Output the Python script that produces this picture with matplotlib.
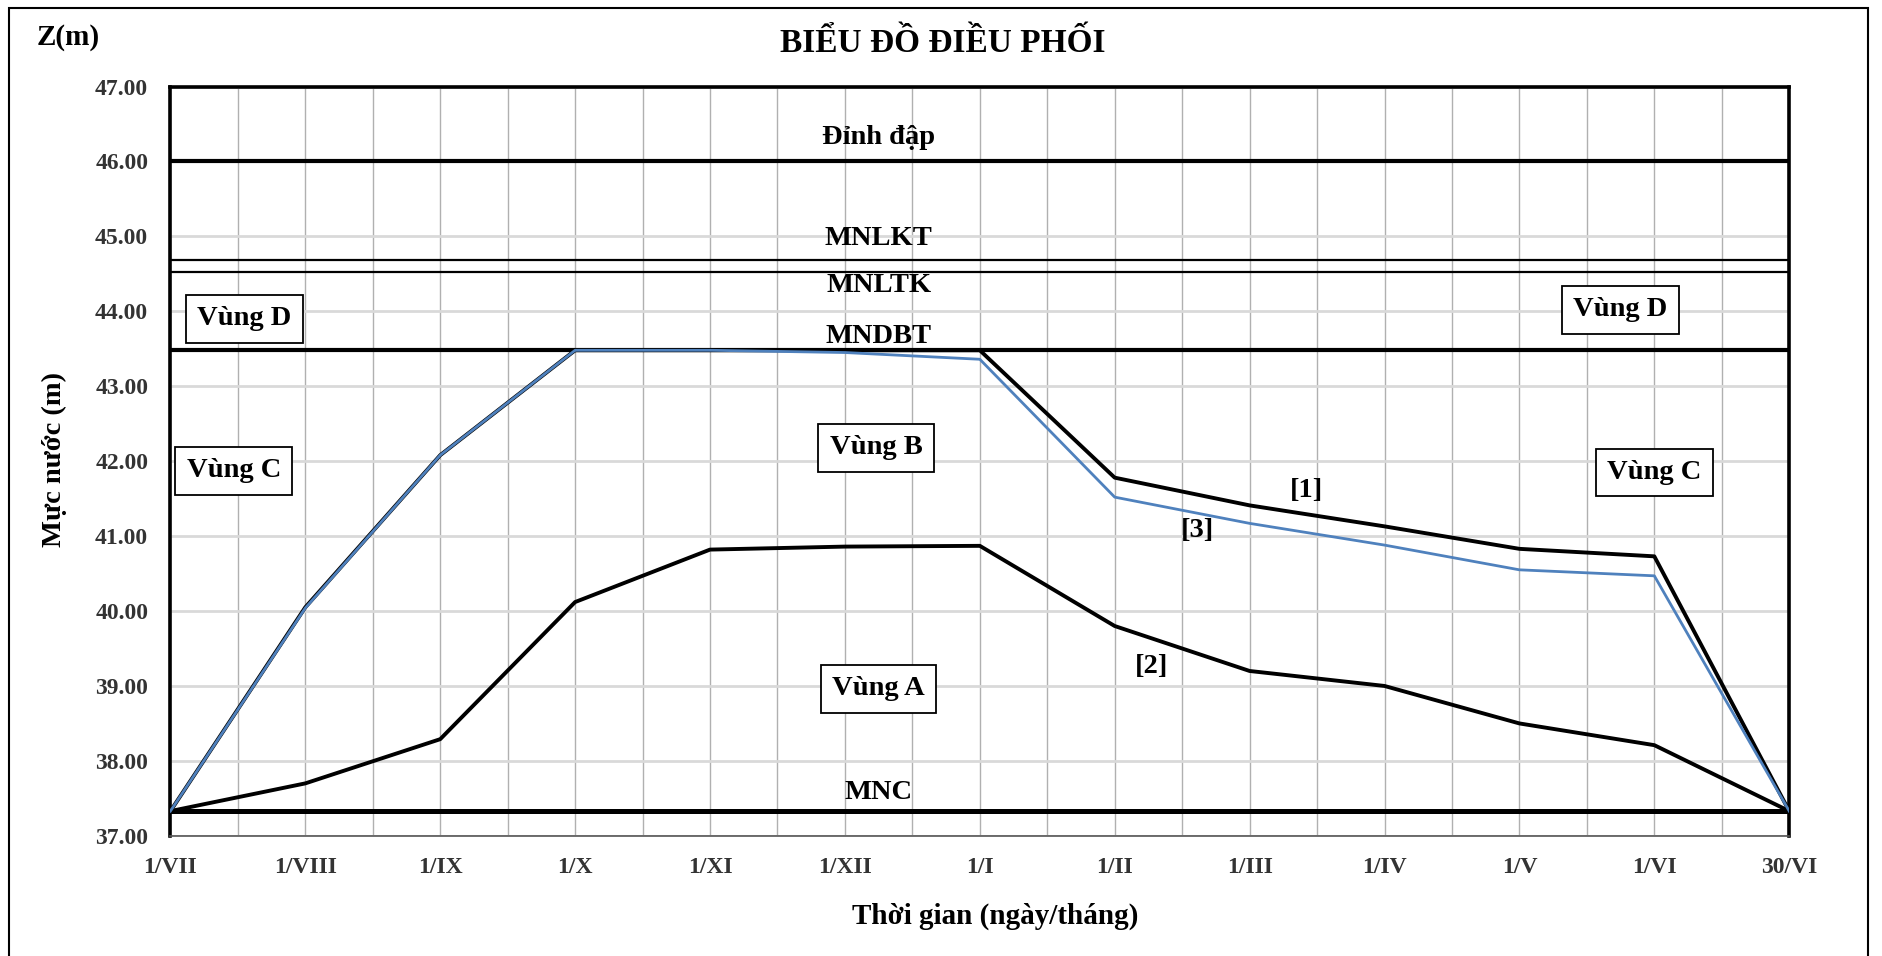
import numpy as np
import matplotlib
matplotlib.use("Agg")
import matplotlib.pyplot as plt
from matplotlib.patches import Rectangle

plt.rcParams['font.family'] = ['Liberation Serif', 'DejaVu Serif']
plt.rcParams['font.weight'] = 'bold'

# thoi gian (ngay/thang)
months = ['1/VII', '1/VIII', '1/IX', '1/X', '1/XI', '1/XII', '1/I',
          '1/II', '1/III', '1/IV', '1/V', '1/VI', '30/VI']

# duong [1], [2], [3]
line1 = [37.33, 40.05, 42.08, 43.48, 43.48, 43.48, 43.48, 41.78, 41.41, 41.13, 40.83, 40.73, 37.33]
line2 = [37.33, 37.70, 38.29, 40.12, 40.82, 40.86, 40.87, 39.80, 39.20, 39.00, 38.50, 38.21, 37.33]
line3 = [37.33, 40.04, 42.08, 43.48, 43.48, 43.45, 43.36, 41.52, 41.17, 40.88, 40.55, 40.47, 37.33]

# muc nuoc dac trung
level_names = ['Đỉnh đập', 'MNLKT', 'MNLTK', 'MNDBT', 'MNC']
level_values = [46.00, 44.69, 44.53, 43.48, 37.33]

x = np.arange(len(months))

fig = plt.figure(figsize=(18.83, 9.56), dpi=100)
ax = fig.add_axes([0.0905, 0.1257, 0.8597, 0.7838])

# luoi
ax.set_xticks(x)
ax.set_xticks(np.arange(0, len(months) - 0.99, 0.5), minor=True)
ax.set_yticks(np.arange(37, 47.01, 1.0))
ax.grid(True, axis='x', which='both', color='#b0b0b0', lw=1.0, zorder=0)
ax.grid(True, axis='y', which='major', color='#d9d9d9', lw=2.0, zorder=0)

# duong muc nuoc
lw_lvl = [3.0, 1.6, 1.6, 3.0, 3.6]
for v, w in zip(level_values, lw_lvl):
    ax.axhline(v, color='black', lw=w, zorder=2)

ax.plot(x, line1, color='black', lw=2.8, zorder=3)
ax.plot(x, line2, color='black', lw=2.8, zorder=3)
ax.plot(x, line3, color='#4f81bd', lw=2.0, zorder=4)

ax.set_xlim(0, len(months) - 1)
ax.set_ylim(37, 47)
ax.set_xticklabels(months)
ax.set_yticklabels([f'{v:.2f}' for v in np.arange(37, 47.01, 1.0)])
ax.tick_params(axis='both', which='both', length=0, labelsize=17, colors='black')
ax.tick_params(axis='y', pad=16)
ax.tick_params(axis='x', pad=15)
for lab in ax.get_xticklabels() + ax.get_yticklabels():
    lab.set_fontweight('bold')
    lab.set_color('#333333')

for side in ['left', 'top', 'right']:
    ax.spines[side].set_linewidth(2.6)
ax.spines['bottom'].set_linewidth(1.2)
ax.spines['bottom'].set_color('#555555')

# nhan muc nuoc
xc = 5.25
label_y = [46.32, 44.97, 44.34, 43.67, 37.58]
for name, yy in zip(level_names, label_y):
    ax.text(xc, yy, name, ha='center', va='center', fontsize=20.5, fontweight='bold', zorder=5)

# vung
box = dict(boxstyle='square,pad=0.4', fc='white', ec='black', lw=1.3)
zones = [('Vùng D', 0.55, 43.90), ('Vùng C', 0.47, 41.87), ('Vùng B', 5.23, 42.18),
         ('Vùng A', 5.25, 38.96), ('Vùng D', 10.75, 44.02), ('Vùng C', 11.0, 41.85)]
for name, zx, zy in zones:
    ax.text(zx, zy, name, ha='center', va='center', fontsize=20.5, fontweight='bold',
            bbox=box, zorder=6)

for name, lx, ly in [('[1]', 8.42, 41.61), ('[3]', 7.61, 41.08), ('[2]', 7.27, 39.26)]:
    ax.text(lx, ly, name, ha='center', va='center', fontsize=20.5, fontweight='bold', zorder=5)

fig.text(0.5008, 0.954, 'BIỂU ĐỒ ĐIỀU PHỐI', ha='center', va='center', fontsize=24, fontweight='bold')
fig.text(0.0364, 0.961, 'Z(m)', ha='center', va='center', fontsize=21, fontweight='bold')
fig.text(0.0287, 0.519, 'Mực nước (m)', ha='center', va='center', rotation=90, fontsize=20.5, fontweight='bold')
fig.text(0.5287, 0.0418, 'Thời gian (ngày/tháng)', ha='center', va='center', fontsize=21, fontweight='bold')

fig.patches.append(Rectangle((0.005, -0.02), 0.987, 1.012, transform=fig.transFigure,
                             fill=False, ec='black', lw=1.5))

fig.savefig('out.png', dpi=100)
